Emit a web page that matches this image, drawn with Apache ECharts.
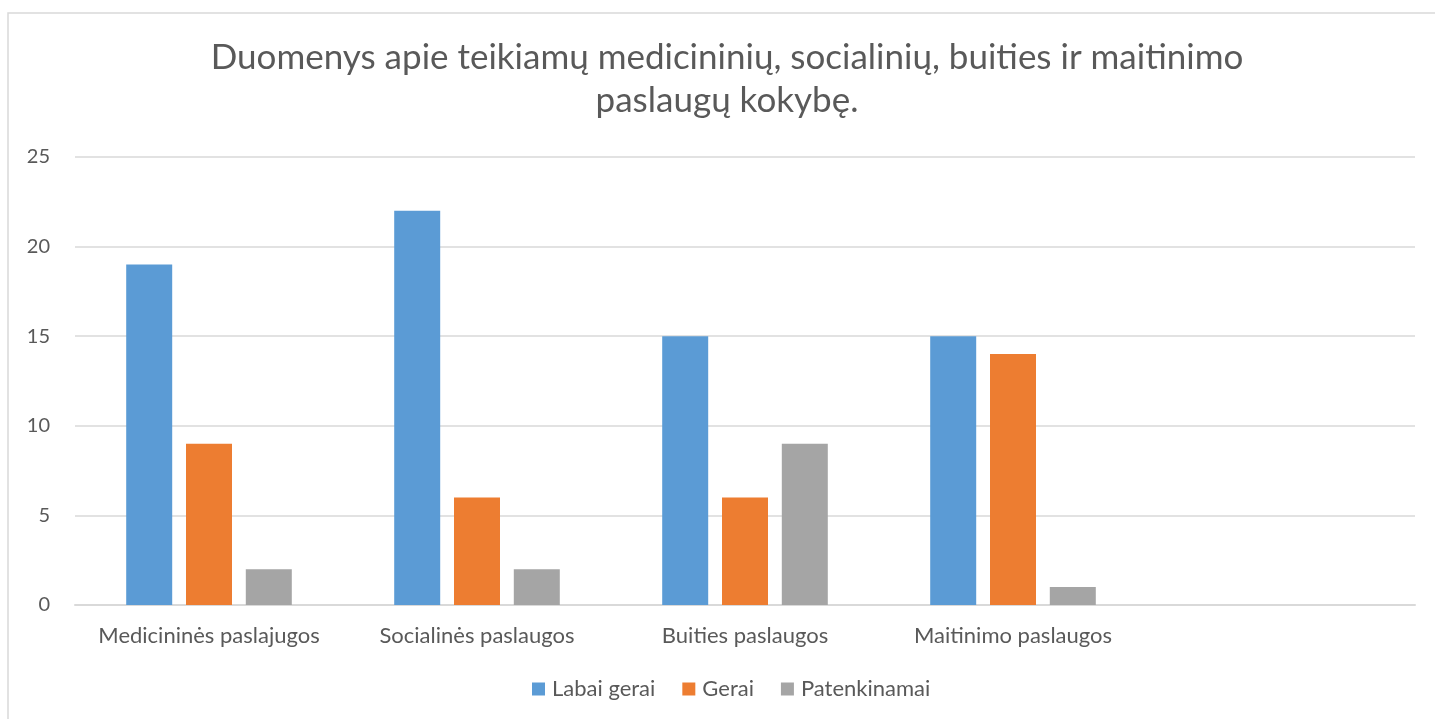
<!DOCTYPE html>
<html>
<head>
<meta charset="utf-8">
<script src="https://cdn.jsdelivr.net/npm/echarts@6/dist/echarts.min.js"></script>
<style>
html, body { margin: 0; padding: 0; background: #fff; }
#container { width: 1435px; height: 719px; }
</style>
</head>
<body>
<div id="container"></div>
<script>
var categories = ['Medicininės paslajugos', 'Socialinės paslaugos', 'Buities paslaugos', 'Maitinimo paslaugos', ''];
var seriesNames = ['Labai gerai', 'Gerai', 'Patenkinamai'];
var labaiGerai = [19, 22, 15, 15, null];
var gerai = [9, 6, 6, 14, null];
var patenkinamai = [2, 2, 9, 1, null];
var yTicks = [0, 5, 10, 15, 20, 25];

var colors = ['#5b9bd5', '#ed7d31', '#a5a5a5'];
var font = 'Lato, "Open Sans", sans-serif';

var dom = document.getElementById('container');
var myChart = echarts.init(dom);

function bar(name, data, i) {
    return {
        name: name,
        type: 'bar',
        barWidth: 46,
        barGap: '30%',
        itemStyle: { color: colors[i] },
        data: data
    };
}

var option = {
    animation: false,
    textStyle: { fontFamily: font },
    graphic: [{
        type: 'rect',
        shape: { x: 8, y: 13, width: 1440, height: 720 },
        style: { fill: 'none', stroke: '#d9d9d9', lineWidth: 1.5 },
        silent: true
    }],
    title: {
        text: 'Duomenys apie teikiamų medicininių, socialinių, buities ir maitinimo\npaslaugų kokybę.',
        left: 722,
        top: 31,
        textAlign: 'center',
        textStyle: {
            fontFamily: font,
            fontSize: 35,
            fontWeight: 'normal',
            color: '#595959',
            lineHeight: 43
        }
    },
    legend: {
        bottom: 14,
        left: 527,
        itemWidth: 13,
        itemHeight: 13,
        itemGap: 27,
        icon: 'rect',
        textStyle: { fontSize: 22, color: '#595959', fontFamily: font, padding: [0, 0, 0, 2] },
        data: seriesNames
    },
    grid: {
        left: 75,
        right: 20,
        top: 157,
        bottom: 114
    },
    xAxis: {
        type: 'category',
        data: categories,
        axisLine: { lineStyle: { color: '#d9d9d9', width: 2 } },
        axisTick: { show: false },
        axisLabel: { fontSize: 22, color: '#595959', margin: 20, interval: 0 }
    },
    yAxis: {
        type: 'value',
        min: 0,
        max: 25,
        interval: 5,
        axisLine: { show: false },
        axisTick: { show: false },
        splitLine: { lineStyle: { color: '#d9d9d9', width: 1.5 } },
        axisLabel: {
            fontSize: 20,
            color: '#595959',
            margin: 25,
            formatter: function (v) { return yTicks.indexOf(v) >= 0 ? String(v) : ''; }
        }
    },
    series: [
        bar(seriesNames[0], labaiGerai, 0),
        bar(seriesNames[1], gerai, 1),
        bar(seriesNames[2], patenkinamai, 2)
    ]
};
myChart.setOption(option);
</script>
</body>
</html>
